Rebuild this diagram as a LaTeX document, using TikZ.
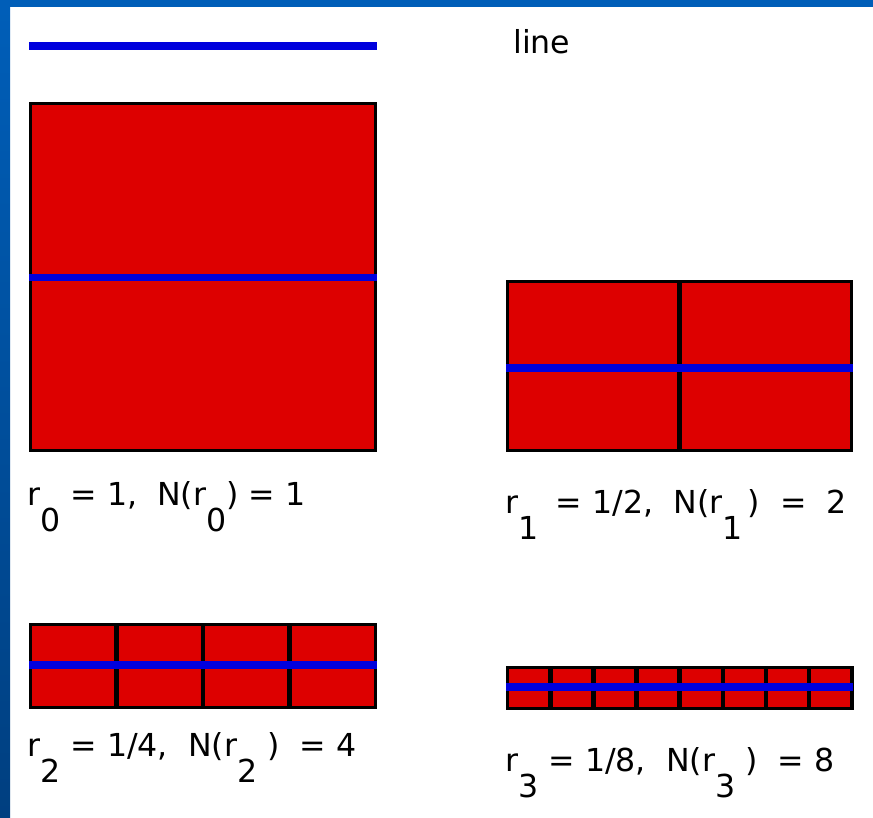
\documentclass[tikz,border=0pt]{standalone}
\usepackage{fontspec}
\setmainfont{DejaVu Sans}
\usetikzlibrary{positioning}
\definecolor{slideBlue}{HTML}{005EB8}
\definecolor{slideDark}{HTML}{003F80}
\definecolor{boxRed}{HTML}{DD0000}
\definecolor{lineBlue}{HTML}{0000DD}
\tikzset{
  redbox/.style={fill=boxRed, draw=black, line width=1.8pt},
  divider/.style={draw=black, line width=2.6pt},
  blueline/.style={draw=lineBlue, line width=4.4pt},
  label/.style={anchor=base west, inner sep=0pt, font=\fontsize{18}{22}\selectfont},
}
\newcommand{\lowsub}[1]{\raisebox{-0.85em}{#1}}

\begin{document}
\begin{tikzpicture}[x=0.02cm, y=-0.02cm]
  \useasboundingbox (0,0) rectangle (873,818);

  % slide frame
  \fill[white] (0,0) rectangle (873,818);
  \fill[slideBlue] (0,0) rectangle (873,7);
  \shade[top color=slideBlue, bottom color=slideDark] (0,7) rectangle (10,818);

  % legend
  \draw[blueline] (29,46) -- (377,46);
  \node[label] (leg) at (513,53) {line};

  % r0
  \draw[redbox] (30.5,103.5) rectangle (375.5,450.5);
  \draw[blueline] (29,277.5) -- (377,277.5);
  \node[label] (lbl0) at (27,505) {r\lowsub{0} = 1,\ \ N(r\lowsub{0}) = 1};

  % r1
  \draw[redbox] (507.5,281.5) rectangle (851.5,450.5);
  \draw[divider] (679.5,281.5) -- (679.5,450.5);
  \draw[blueline] (506,368) -- (853,368);
  \node[label] (lbl1) at (505,513) {r\lowsub{1}\hspace{0.55em}= 1/2,\ \ N(r\lowsub{1}\,)\ \ = \ 2};

  % r2
  \draw[redbox] (30.5,624.5) rectangle (375.5,707.5);
  \foreach \i in {1,...,3}
    \draw[divider] ({30.5+\i*86.25},624.5) -- ({30.5+\i*86.25},707.5);
  \draw[blueline] (29,665) -- (377,665);
  \node[label] (lbl2) at (27,756) {r\lowsub{2} = 1/4,\ \ N(r\lowsub{2}\ )\ \ = 4};

  % r3
  \draw[redbox] (507.5,667.5) rectangle (852,708.5);
  \foreach \i in {1,...,7}
    \draw[divider] ({507.5+\i*43.06},667.5) -- ({507.5+\i*43.06},708.5);
  \draw[blueline] (506,687) -- (853,687);
  \node[label] (lbl3) at (505,771) {r\lowsub{3} = 1/8,\ \ N(r\lowsub{3}\ )\ \ = 8};

\end{tikzpicture}
\end{document}
